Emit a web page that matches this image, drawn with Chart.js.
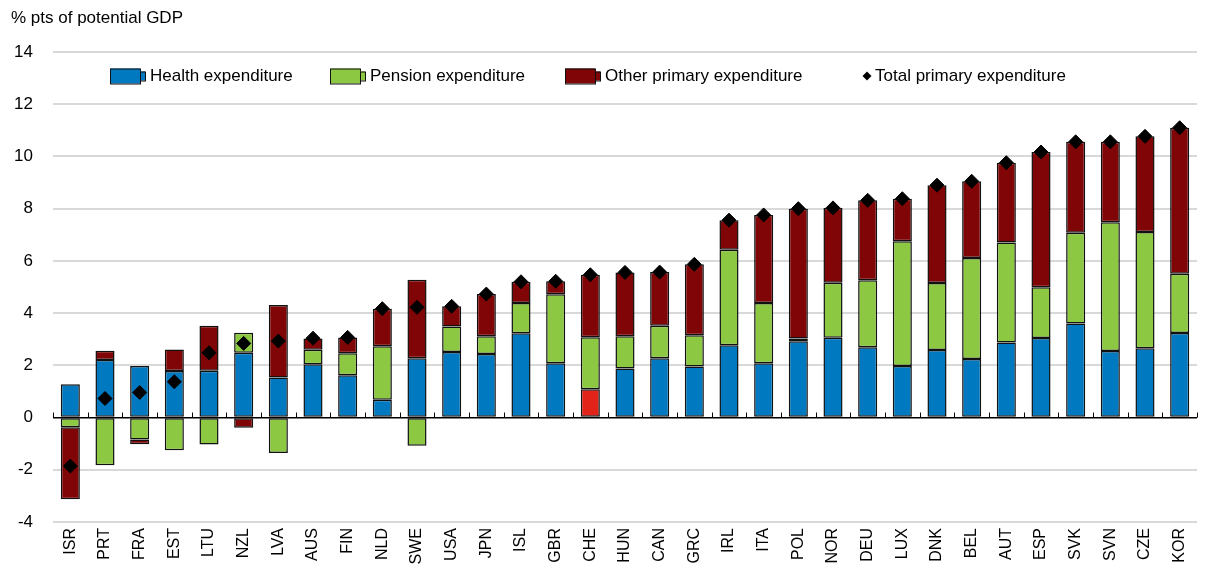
<!DOCTYPE html>
<html>
<head>
<meta charset="utf-8">
<script src="https://cdn.jsdelivr.net/npm/chart.js@4.4.1/dist/chart.umd.min.js"></script>
<style>
    body { margin: 0; background: #fff; }
    canvas { display: block; }
</style>
</head>
<body>
<canvas id="chart" width="1205" height="568"></canvas>
<script>
// Countries, ranked by total primary expenditure change
const countries = ['ISR', 'PRT', 'FRA', 'EST', 'LTU', 'NZL', 'LVA', 'AUS', 'FIN', 'NLD', 'SWE', 'USA', 'JPN', 'ISL', 'GBR', 'CHE',
    'HUN', 'CAN', 'GRC', 'IRL', 'ITA', 'POL', 'NOR', 'DEU', 'LUX', 'DNK', 'BEL', 'AUT', 'ESP', 'SVK', 'SVN', 'CZE', 'KOR'];

const health = [1.28, 2.20, 1.97, 1.78, 1.79, 2.48, 1.53, 2.04, 1.62, 0.68, 2.27, 2.51, 2.43, 3.23, 2.08, 1.08,
    1.88, 2.27, 1.96, 2.77, 2.08, 2.92, 3.06, 2.69, 1.97, 2.59, 2.24, 2.87, 3.05, 3.60, 2.55, 2.65, 3.24];

const pension = [-0.37, -1.83, -0.84, -1.25, -1.03, 0.77, -1.36, 0.56, 0.84, 2.05, -1.08, 0.98, 0.68, 1.16, 2.64, 2.00,
    1.23, 1.25, 1.19, 3.66, 2.31, 0.11, 2.10, 2.57, 4.78, 2.56, 3.87, 3.83, 1.94, 3.48, 4.93, 4.46, 2.27];

const other = [-2.76, 0.36, -0.18, 0.83, 1.73, -0.39, 2.78, 0.43, 0.61, 1.44, 3.01, 0.77, 1.62, 0.81, 0.50, 2.39,
    2.45, 2.05, 2.72, 1.13, 3.37, 4.97, 2.87, 3.06, 1.63, 3.75, 2.94, 3.06, 5.18, 3.48, 3.08, 3.66, 5.59];

const total = [-1.86, 0.73, 0.96, 1.37, 2.48, 2.84, 2.93, 3.04, 3.07, 4.17, 4.22, 4.26, 4.73, 5.20, 5.22, 5.47,
    5.56, 5.57, 5.87, 7.56, 7.76, 8.00, 8.03, 8.32, 8.38, 8.90, 9.05, 9.76, 10.17, 10.56, 10.56, 10.77, 11.10];

const highlight = 'CHE';

const FONT = "'Liberation Sans', Arial, sans-serif";
const BLUE = '#0079c1';
const GREEN = '#8cc841';
const DARK_RED = '#7f0506';
const RED = '#e2231a';

// Title + legend drawn straight on the canvas
const extrasPlugin = {
    id: 'extras',
    afterDraw(chart) {
        const ctx = chart.ctx;
        ctx.save();
        ctx.fillStyle = '#000';
        ctx.font = '17px ' + FONT;
        ctx.textBaseline = 'middle';
        ctx.textAlign = 'left';
        ctx.fillText('% pts of potential GDP', 11, 18);

        const items = [
            { x: 110, color: BLUE, text: 'Health expenditure' },
            { x: 330, color: GREEN, text: 'Pension expenditure' },
            { x: 565, color: DARK_RED, text: 'Other primary expenditure' }
        ];
        const ly = 76;
        ctx.lineWidth = 1;
        ctx.strokeStyle = '#111';
        items.forEach(it => {
            ctx.fillStyle = it.color;
            ctx.fillRect(it.x, ly - 7.5, 30, 15);
            ctx.strokeRect(it.x + 0.5, ly - 7, 30, 15);
            ctx.fillRect(it.x + 30, ly - 4.5, 5, 9);
            ctx.strokeRect(it.x + 30.5, ly - 4, 5, 9);
            ctx.fillStyle = '#000';
            ctx.fillText(it.text, it.x + 40, ly);
        });

        // diamond marker
        ctx.beginPath();
        ctx.moveTo(867, ly - 4.5);
        ctx.lineTo(871.5, ly);
        ctx.lineTo(867, ly + 4.5);
        ctx.lineTo(862.5, ly);
        ctx.closePath();
        ctx.fill();
        ctx.fillText('Total primary expenditure', 875, ly);

        // small tick marks on the zero line at category boundaries
        const xs = chart.scales.x;
        const y0 = chart.scales.y.getPixelForValue(0);
        const step = (xs.right - xs.left) / countries.length;
        ctx.strokeStyle = '#000';
        ctx.lineWidth = 1;
        ctx.beginPath();
        for (let i = 0; i <= countries.length; i++) {
            const x = Math.round(xs.left + i * step) + 0.5;
            ctx.moveTo(x, y0);
            ctx.lineTo(x, y0 - 5);
        }
        ctx.stroke();
        ctx.restore();
    }
};

const barBase = {
    type: 'bar',
    stack: 'parts',
    borderColor: '#111',
    borderWidth: 1.5,
    borderSkipped: false,
    barPercentage: 0.55,
    categoryPercentage: 1,
    order: 1
};

new Chart(document.getElementById('chart'), {
    data: {
        labels: countries,
        datasets: [
            {
                ...barBase,
                label: 'Health expenditure',
                data: health,
                backgroundColor: countries.map(c => c === highlight ? RED : BLUE)
            },
            { ...barBase, label: 'Pension expenditure', data: pension, backgroundColor: GREEN },
            { ...barBase, label: 'Other primary expenditure', data: other, backgroundColor: DARK_RED },
            {
                type: 'line',
                label: 'Total primary expenditure',
                data: total,
                stack: 'total',
                showLine: false,
                pointStyle: 'rectRot',
                pointRadius: 7,
                pointBorderWidth: 1,
                pointBackgroundColor: '#000',
                pointBorderColor: '#000',
                order: 0
            }
        ]
    },
    options: {
        responsive: false,
        animation: false,
        layout: { padding: { top: 52, right: 1, left: 0, bottom: 0 } },
        plugins: {
            legend: { display: false },
            tooltip: { enabled: false }
        },
        scales: {
            x: {
                stacked: true,
                grid: { display: false, drawTicks: false },
                border: { display: false },
                ticks: {
                    color: '#000',
                    font: { family: FONT, size: 16 },
                    minRotation: 90,
                    maxRotation: 90,
                    padding: 6,
                    autoSkip: false
                },
                afterFit: (scale) => { scale.height = 46; }
            },
            y: {
                stacked: true,
                min: -4,
                max: 14,
                grid: {
                    drawTicks: false,
                    color: (c) => c.tick && c.tick.value === 0 ? '#000' : '#d9d9d9',
                    lineWidth: (c) => c.tick && c.tick.value === 0 ? 1.5 : 2
                },
                border: { display: false },
                ticks: {
                    stepSize: 2,
                    color: '#000',
                    font: { family: FONT, size: 17 },
                    padding: 20
                },
                afterFit: (scale) => { scale.width = 53; }
            }
        }
    },
    plugins: [extrasPlugin]
});
</script>
</body>
</html>
